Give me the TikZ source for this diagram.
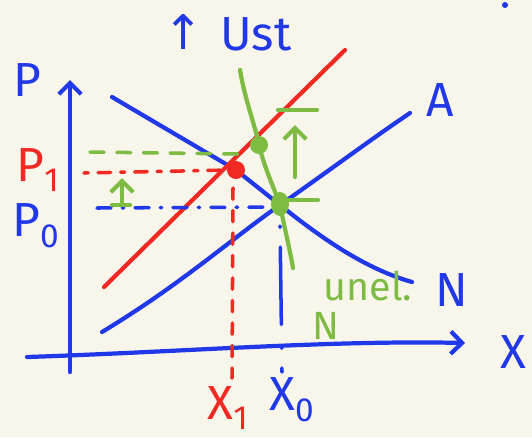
\documentclass[tikz,border=0pt]{standalone}
\usepackage{fontspec}
\setmainfont{Fira Sans}
\newfontfamily\symfont{DejaVu Sans}
\usetikzlibrary{arrows.meta}
\definecolor{paper}{HTML}{F8F5EB}
\definecolor{penblue}{HTML}{2038E8}
\definecolor{penred}{HTML}{F02A22}
\definecolor{pengreen}{HTML}{7DBB42}
\tikzset{
  pen/.style={line width=3pt,line cap=round,line join=round},
  barb/.style={-{Straight Barb[length=8pt,width=16pt,line width=3pt]}},
  hand/.style={font=\fontsize{34}{38}\selectfont,inner sep=0pt}
}

\begin{document}
\begin{tikzpicture}[x={(0.025cm,0)},y={(0,-0.025cm)}]
\fill[paper] (0,0) rectangle (532,437);
\useasboundingbox (0,0) rectangle (532,437);
% axes
\draw[pen,penblue,barb] (70,372) -- (70,80);
\draw[pen,penblue,barb] (27,357) .. controls (180,352) and (330,340) .. (465,343);
\node[hand,penblue] (lblP) at (27,80) {P};
\node[hand,penblue] (lblX) at (513,352) {X};
% curves
\draw[pen,penblue] (112,97) -- (236,170) -- (280,205) .. controls (330,245) and (370,270) .. (412,282);
\draw[pen,penblue] (102,332) .. controls (180,285) and (230,240) .. (280,205) .. controls (330,170) and (370,140) .. (410,113);
\draw[pen,penred] (104,287) -- (345,50);
\draw[pen,pengreen] (240,70) .. controls (245,100) and (255,125) .. (259,145) .. controls (265,170) and (275,190) .. (280,205) .. controls (285,230) and (290,250) .. (293,268);
\node[hand,penblue] (lblA) at (440,100) {A};
\node[hand,penblue] (lblN) at (452,290) {N};
% guide lines
\draw[pen,pengreen,line width=2.5pt,dash pattern=on 10pt off 9pt] (90,152) -- (238,154);
\draw[pen,penred,line width=2.5pt,dash pattern=on 3pt off 7pt on 9pt off 7pt] (84,173) -- (230,170);
\draw[pen,penblue,line width=2.5pt,dash pattern=on 10pt off 8pt on 1pt off 8pt] (97,208) -- (272,207);
\draw[pen,penred,line width=2.5pt,dash pattern=on 8pt off 8pt] (233,188) -- (232,378);
\draw[pen,penblue,line width=2.5pt,dash pattern=on 1pt off 14pt on 55pt off 16pt] (280,226) -- (282,372);
% points
\fill[penred] (236,170) circle (9);
\fill[pengreen] (259,145) circle (9);
\fill[pengreen] (280,204) ellipse (9 and 12);
% shifts
\draw[pen,pengreen] (278,110) -- (317,110);
\draw[pen,pengreen] (286,200) -- (318,200);
\draw[pen,pengreen,barb] (295,177) -- (295,125);
\draw[pen,pengreen] (112,205) -- (130,205);
\draw[pen,pengreen,barb] (122,205) -- (122,178);
% labels
\node[hand,penblue] (lblUp) at (184,32) {\symfont ↑};
\node[hand,penblue] (lblUst) at (256,34) {Ust};
\node[hand,penred] (lblP1) at (38,170) {P\textsubscript{1}};
\node[hand,penblue] (lblP0) at (36,226) {P\textsubscript{0}};
\node[hand,penred] (lblX1) at (228,408) {X\textsubscript{1}};
\node[hand,penblue] (lblX0) at (292,400) {X\textsubscript{0}};
\node[hand,pengreen,font=\fontsize{28}{30}\selectfont] (lblUnel) at (368,286) {unel.};
\node[hand,pengreen,font=\fontsize{28}{30}\selectfont] (lblUnelN) at (326,326) {N};
\fill[penblue] (505,5) circle (3);
\end{tikzpicture}
\end{document}
